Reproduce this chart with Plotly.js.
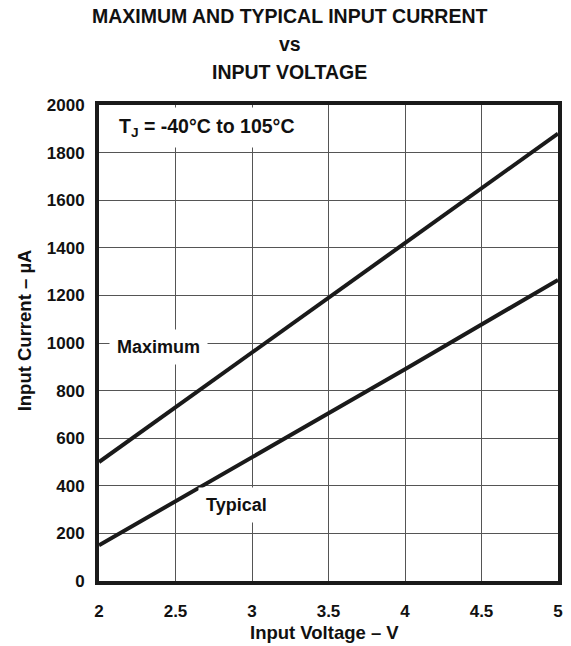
<!DOCTYPE html>
<html>
<head>
<meta charset="utf-8">
<script src="https://cdn.plot.ly/plotly-3.0.1.min.js"></script>
<style>html,body{margin:0;padding:0;background:#fff;}#chart{width:571px;height:646px;}</style>
</head>
<body>
<div id="chart"></div>
<script>
// Data
const voltage = [2, 3, 4, 5];                 // Input Voltage (V)
const maximumCurrent = [500, 960, 1420, 1880]; // µA
const typicalCurrent = [150, 520, 890, 1265];  // µA
const xTicks = [2, 2.5, 3, 3.5, 4, 4.5, 5];
const xTickText = ['2', '2.5', '3', '3.5', '4', '4.5', '5'];
const yTicks = [0, 200, 400, 600, 800, 1000, 1200, 1400, 1600, 1800, 2000];

const titleLines = ['MAXIMUM AND TYPICAL INPUT CURRENT', 'vs', 'INPUT VOLTAGE'];
const FONT = 'Liberation Sans, Arial, Helvetica, sans-serif';

const traces = [
  {x: voltage, y: maximumCurrent, mode: 'lines', name: 'Maximum',
   line: {color: '#1a1a1a', width: 4}, hoverinfo: 'skip'},
  {x: voltage, y: typicalCurrent, mode: 'lines', name: 'Typical',
   line: {color: '#1a1a1a', width: 4}, hoverinfo: 'skip'}
];

const titleY = [1.186, 1.128, 1.070];
const annotations = titleLines.map((t, i) => ({
  text: t, xref: 'paper', yref: 'paper', x: 0.416, y: titleY[i],
  xanchor: 'center', yanchor: 'middle', showarrow: false,
  font: {family: FONT, size: 19.5, color: '#111', weight: 'bold'}
}));

annotations.push(
  {text: 'T<sub>J</sub> = -40°C to 105°C', x: 2.70, y: 1905, xref: 'x', yref: 'y',
   showarrow: false, bgcolor: '#fff', borderpad: 7,
   font: {family: FONT, size: 19.5, color: '#111', weight: 'bold'}},
  {text: 'Maximum', x: 2.386, y: 985, xref: 'x', yref: 'y',
   showarrow: false, bgcolor: '#fff', borderpad: 7,
   font: {family: FONT, size: 18, color: '#111', weight: 'bold'}},
  {text: 'Typical', x: 2.90, y: 320, xref: 'x', yref: 'y',
   showarrow: false, bgcolor: '#fff', borderpad: 7,
   font: {family: FONT, size: 18, color: '#111', weight: 'bold'}},
  {text: 'Input Current – µA', xref: 'paper', yref: 'paper', x: -0.163, y: 0.527,
   textangle: -90, xanchor: 'center', yanchor: 'middle', showarrow: false,
   font: {family: FONT, size: 18.5, color: '#111', weight: 'bold'}},
  {text: 'Input Voltage – V', xref: 'paper', yref: 'paper', x: 0.492, y: -0.109,
   xanchor: 'center', yanchor: 'middle', showarrow: false,
   font: {family: FONT, size: 18.5, color: '#111', weight: 'bold'}}
);

const layout = {
  width: 571, height: 646,
  margin: {l: 99, r: 13, t: 105, b: 65},
  paper_bgcolor: '#fff', plot_bgcolor: '#fff',
  showlegend: false,
  font: {family: FONT, color: '#111'},
  xaxis: {
    range: [2, 5], tickvals: xTicks, ticktext: xTickText,
    showgrid: true, gridcolor: '#555', gridwidth: 1,
    showline: true, linecolor: '#1a1a1a', linewidth: 4, mirror: true,
    zeroline: false, ticks: '', ticklabelstandoff: 12,
    tickfont: {family: FONT, size: 17, color: '#111', weight: 'bold'}
  },
  yaxis: {
    range: [0, 2000], tickvals: yTicks,
    showgrid: true, gridcolor: '#555', gridwidth: 1,
    showline: true, linecolor: '#1a1a1a', linewidth: 4, mirror: true,
    zeroline: false, ticks: '', ticklabelstandoff: 7,
    tickfont: {family: FONT, size: 17, color: '#111', weight: 'bold'}
  },
  annotations: annotations
};

Plotly.newPlot('chart', traces, layout, {displayModeBar: false, staticPlot: true});
</script>
</body>
</html>
